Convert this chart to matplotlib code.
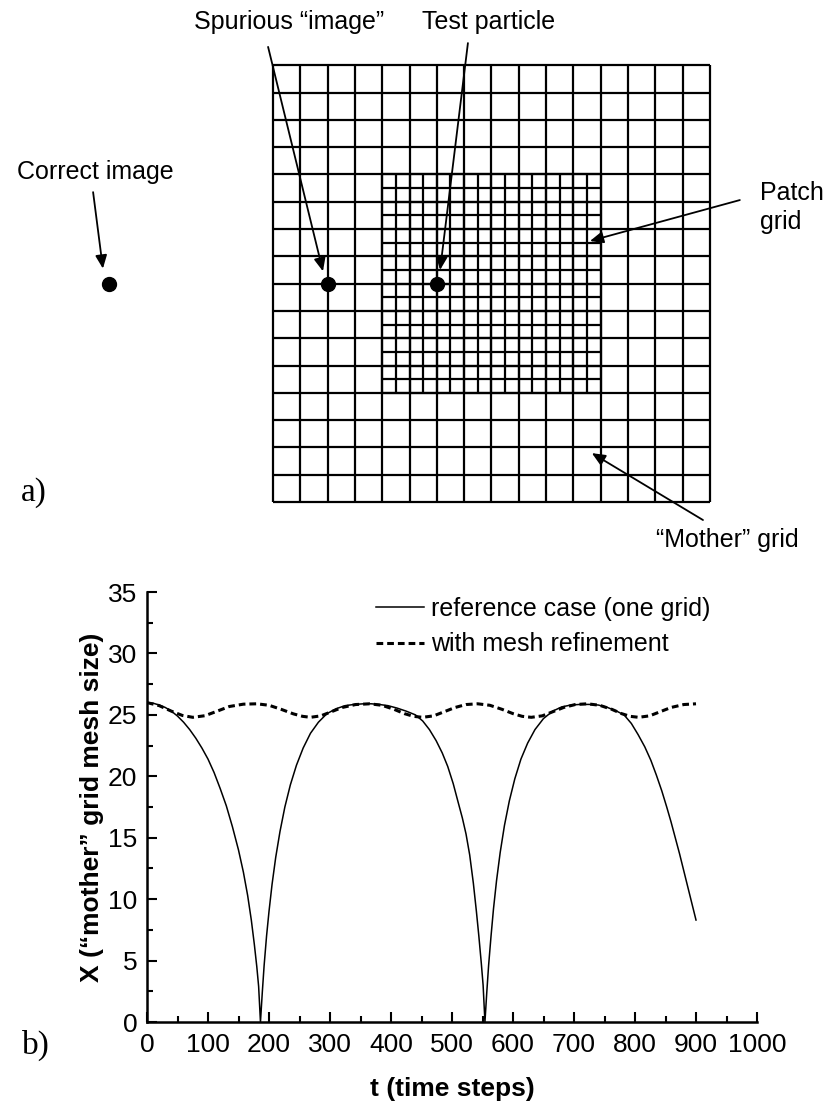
import matplotlib
matplotlib.use("Agg")
import matplotlib.pyplot as plt
from matplotlib.ticker import MultipleLocator

# ---- panel a) geometry (in "mother" cell units) ----
n_mother = 16
patch_lo, patch_hi = 4, 12
refine = 2
particle_x = [-6, 2, 6]      # correct image, spurious image, test particle
particle_y = [8, 8, 8]

# ---- panel b) data (read off the figure) ----
t_ref = [0, 10, 20, 30, 40, 50, 60, 70, 80, 90, 100, 110, 120, 130, 140, 150,
         158, 165, 171, 176, 180, 183, 186,
         189, 192, 196, 200, 205, 211, 218, 226, 235, 245, 256, 268, 281, 295,
         310, 325, 340, 355, 368,
         380, 395, 410, 425, 440, 452, 463, 474, 484, 493, 502, 510, 517, 523,
         529, 535, 540, 544, 548, 551, 554,
         557, 560, 564, 568, 573, 579, 586, 594, 603, 613, 624, 636, 650, 665,
         680, 695, 710, 725,
         740, 755, 770, 782, 794, 805, 816, 826, 835, 844, 852, 859, 866, 873,
         880, 886, 891, 896, 900]
x_ref = [26.0, 25.95, 25.8, 25.6, 25.3, 24.9, 24.4, 23.8, 23.1, 22.3, 21.4,
         20.3, 19.0, 17.6, 15.9, 14.0, 12.2, 10.3, 8.3, 6.3, 4.5, 2.9, 0.0,
         2.4, 4.6, 7.0, 9.0, 11.2, 13.4, 15.5, 17.5, 19.3, 20.9, 22.3, 23.5,
         24.4, 25.1, 25.5, 25.75, 25.85, 25.9, 25.9,
         25.85, 25.75, 25.55, 25.3, 25.0, 24.5, 23.8, 22.9, 21.9, 20.8, 19.4,
         17.9, 16.6, 15.3, 13.6, 11.3, 9.0, 7.0, 4.8, 3.0, 0.0,
         2.4, 4.6, 7.0, 9.2, 11.5, 13.8, 16.0, 18.0, 19.8, 21.4, 22.7, 23.8,
         24.7, 25.3, 25.65, 25.8, 25.85, 25.85,
         25.8, 25.6, 25.3, 25.0, 24.3, 23.4, 22.4, 21.3, 20.1, 18.8, 17.5,
         16.3, 15.0, 13.7, 12.3, 11.1, 10.1, 9.1, 8.3]

t_mr = [0, 20, 40, 58, 75, 95, 115, 135, 158, 180, 200, 220, 240, 255, 268,
        285, 302, 320, 342, 365, 385, 405, 422, 437, 452, 470, 487, 505, 523,
        542, 562, 582, 600, 615, 630, 648, 665, 683, 702, 722, 742, 762, 778,
        792, 806, 824, 841, 859, 880, 900]
x_mr = [26.0, 25.75, 25.3, 24.95, 24.8, 24.93, 25.3, 25.68, 25.87, 25.9,
        25.78, 25.45, 25.08, 24.88, 24.8, 24.92, 25.25, 25.6, 25.84, 25.9,
        25.78, 25.45, 25.1, 24.88, 24.8, 24.92, 25.25, 25.6, 25.84, 25.9,
        25.78, 25.45, 25.1, 24.88, 24.8, 24.92, 25.25, 25.6, 25.84, 25.9,
        25.78, 25.45, 25.1, 24.88, 24.8, 24.92, 25.25, 25.6, 25.84, 25.9]

W, H = 826, 1108
fig = plt.figure(figsize=(W / 100, H / 100), dpi=100)
sans = ["Liberation Sans", "DejaVu Sans"]
serif = ["Liberation Serif", "DejaVu Serif"]

# ---------------- panel a) ----------------
cell = 27.3          # px per mother cell
gx0, gy1 = 273, 502  # pixel of grid origin (left, bottom)
top_h = 560
ax_d = fig.add_axes([0, 1 - top_h / H, 1, top_h / H])
ax_d.set_xlim(-gx0 / cell, (W - gx0) / cell)
ax_d.set_ylim((gy1 - top_h) / cell, gy1 / cell)
ax_d.axis("off")

lw = 1.6
ax_d.vlines(range(n_mother + 1), 0, n_mother, color="black", lw=lw)
ax_d.hlines(range(n_mother + 1), 0, n_mother, color="black", lw=lw)
fine = [patch_lo + k / refine for k in range((patch_hi - patch_lo) * refine + 1)]
ax_d.vlines(fine, patch_lo, patch_hi, color="black", lw=lw)
ax_d.hlines(fine, patch_lo, patch_hi, color="black", lw=lw)

ax_d.plot(particle_x, particle_y, "o", color="black", ms=10, zorder=5)

arrow = dict(arrowstyle="-|>,head_length=0.8,head_width=0.35", color="black",
             lw=1.3, shrinkA=0, shrinkB=0)
fs = 18
ax_d.annotate("", xy=(-6.23, 8.55), xytext=(-6.59, 11.35), arrowprops=arrow)
ax_d.annotate("", xy=(1.83, 8.45), xytext=(-0.18, 16.67), arrowprops=arrow)
ax_d.annotate("", xy=(6.12, 8.5), xytext=(7.14, 16.81), arrowprops=arrow)
ax_d.annotate("", xy=(11.61, 9.56), xytext=(17.1, 11.06), arrowprops=arrow)
ax_d.annotate("", xy=(11.68, 1.79), xytext=(15.75, -0.66), arrowprops=arrow)

ax_d.text(0.59, 17.58, "Spurious \u201cimage\u201d", ha="center", va="center",
          fontsize=fs, family=sans)
ax_d.text(7.88, 17.58, "Test particle", ha="center", va="center",
          fontsize=fs, family=sans)
ax_d.text(-6.52, 12.09, "Correct image", ha="center", va="center",
          fontsize=fs, family=sans)
ax_d.text(17.84, 10.79, "Patch\ngrid", ha="left", va="center",
          fontsize=fs, family=sans, linespacing=1.3)
ax_d.text(16.63, -1.39, "\u201cMother\u201d grid", ha="center", va="center",
          fontsize=fs, family=sans)

fig.text(34 / W, 1 - 493 / H, "a)", ha="center", va="center",
         fontsize=24, family=serif)
fig.text(36 / W, 1 - 1045 / H, "b)", ha="center", va="center",
         fontsize=24, family=serif)

# ---------------- panel b) ----------------
L, R, T, B = 147, 757, 592, 1022
ax = fig.add_axes([L / W, 1 - B / H, (R - L) / W, (B - T) / H])
ax.plot(t_ref, x_ref, color="black", lw=1.1,
        label="reference case (one grid)")
ax.plot(t_mr, x_mr, color="black", lw=2.2, dashes=(2.2, 1.3),
        label="with mesh refinement")
ax.set_xlim(0, 1000)
ax.set_ylim(0, 35)
for s in ("top", "right"):
    ax.spines[s].set_visible(False)
for s in ("left", "bottom"):
    ax.spines[s].set_linewidth(1.8)
ax.xaxis.set_major_locator(MultipleLocator(100))
ax.xaxis.set_minor_locator(MultipleLocator(50))
ax.yaxis.set_major_locator(MultipleLocator(5))
ax.yaxis.set_minor_locator(MultipleLocator(2.5))
ax.tick_params(which="both", direction="in", width=1.5, labelsize=19)
ax.tick_params(which="major", length=7, pad=8)
ax.tick_params(which="minor", length=4)
ax.tick_params(axis="y", pad=7)
for lab in ax.get_xticklabels() + ax.get_yticklabels():
    lab.set_family(sans)

ax.set_xlabel("t (time steps)", fontsize=19, fontweight="bold",
              family=sans, labelpad=14)
ax.set_ylabel("X (\u201cmother\u201d grid mesh size)", fontsize=19,
              fontweight="bold", family=sans, labelpad=3)

leg = ax.legend(loc="upper left", bbox_to_anchor=(376 / W, 1 - 597 / H),
                bbox_transform=fig.transFigure, frameon=False,
                prop={"family": sans, "size": 18}, handlelength=1.9,
                handletextpad=0.3, labelspacing=0.45, borderpad=0,
                borderaxespad=0)

fig.savefig("out.png", dpi=100)
